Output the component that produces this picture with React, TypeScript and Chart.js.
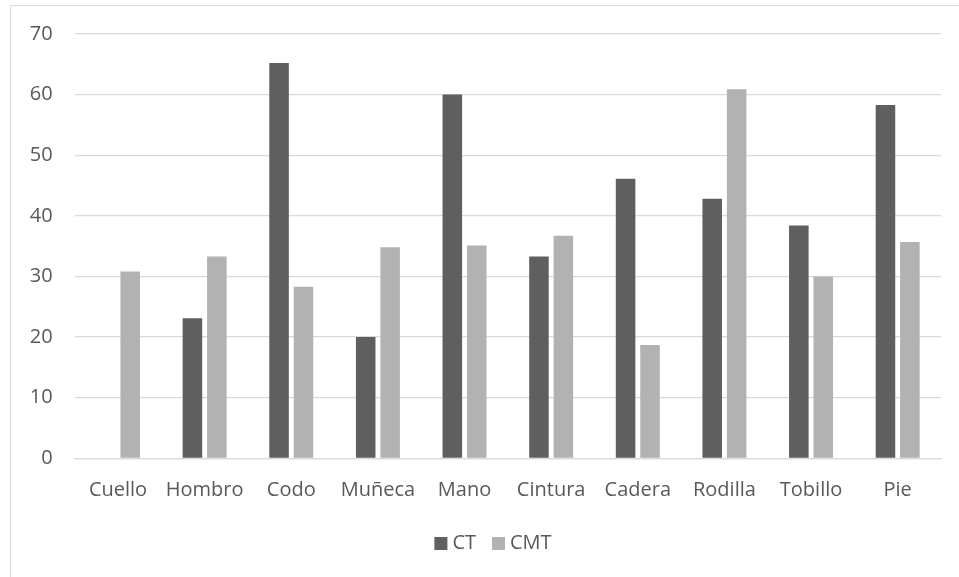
import React, { useEffect, useRef } from "react";
import { Chart, registerables } from "chart.js";

Chart.register(...registerables);

const categories = ["Cuello", "Hombro", "Codo", "Muñeca", "Mano", "Cintura", "Cadera", "Rodilla", "Tobillo", "Pie"];
const ctValues = [0, 23.1, 65.2, 20, 60, 33.3, 46.1, 42.8, 38.4, 58.3];
const cmtValues = [30.8, 33.3, 28.3, 34.8, 35.1, 36.7, 18.7, 60.9, 30.0, 35.7];
const seriesNames = ["CT", "CMT"];
const seriesColors = ["#5f5f5f", "#b2b2b2"];
const yTicks = [0, 10, 20, 30, 40, 50, 60, 70];

const FONT = "'Open Sans', 'Noto Sans', sans-serif";
const FONT_SIZE = 20;

const framePlugin = {
  id: "frame",
  beforeDraw(chart: any) {
    const ctx = chart.ctx;
    ctx.save();
    ctx.fillStyle = "#ffffff";
    ctx.fillRect(0, 0, chart.width, chart.height);
    ctx.strokeStyle = "#d9d9d9";
    ctx.lineWidth = 1;
    ctx.beginPath();
    ctx.moveTo(10.5, chart.height + 2);
    ctx.lineTo(10.5, 5.5);
    ctx.lineTo(chart.width + 2, 5.5);
    ctx.stroke();
    ctx.restore();
  },
};

const legendPlugin = {
  id: "customLegend",
  afterDraw(chart: any) {
    const ctx = chart.ctx;
    ctx.save();
    ctx.font = `${FONT_SIZE}px ${FONT}`;
    ctx.textBaseline = "middle";
    const box = 13;
    const gapBoxText = 5;
    const gapItems = 16;
    const items = chart.data.datasets.map((d: any) => ({
      label: d.label,
      color: d.backgroundColor,
      w: box + gapBoxText + ctx.measureText(d.label).width,
    }));
    const total = items.reduce((a: number, it: any) => a + it.w, 0) + gapItems * (items.length - 1);
    const cy = 543.5;
    let x = 493 - total / 2;
    items.forEach((it: any) => {
      ctx.fillStyle = it.color;
      ctx.fillRect(x, cy - box / 2, box, box);
      ctx.fillStyle = "#595959";
      ctx.fillText(it.label, x + box + gapBoxText, cy);
      x += it.w + gapItems;
    });
    ctx.restore();
  },
};

export default function App() {
  const ref = useRef<HTMLCanvasElement | null>(null);
  useEffect(() => {
    if (!ref.current) return;
    const chart = new Chart(ref.current, {
      type: "bar",
      data: {
        labels: categories,
        datasets: [
          {
            label: seriesNames[0],
            data: ctValues,
            backgroundColor: seriesColors[0],
            categoryPercentage: 0.564,
            barPercentage: 0.8,
          },
          {
            label: seriesNames[1],
            data: cmtValues,
            backgroundColor: seriesColors[1],
            categoryPercentage: 0.564,
            barPercentage: 0.8,
          },
        ],
      },
      options: {
        responsive: false,
        animation: false,
        devicePixelRatio: 1,
        layout: { padding: { left: 0, top: 34, right: 18, bottom: 58.7 } },
        scales: {
          x: {
            grid: { display: false, drawTicks: false },
            border: { display: true, color: "#d9d9d9", width: 1.3 },
            ticks: { color: "#595959", font: { family: FONT, size: FONT_SIZE }, padding: 20, maxRotation: 0, autoSkip: false },
            afterFit: (s: any) => { s.height = 60; },
          },
          y: {
            min: 0,
            max: 70,
            afterBuildTicks: (s: any) => { s.ticks = yTicks.map((v) => ({ value: v })); },
            grid: { color: "#d9d9d9", lineWidth: 1.3, drawTicks: false },
            border: { display: false },
            ticks: { color: "#595959", font: { family: FONT, size: FONT_SIZE }, padding: 22 },
            afterFit: (s: any) => { s.width = 74.7; },
          },
        },
        plugins: {
          legend: { display: false },
          tooltip: { enabled: false },
        },
      },
      plugins: [framePlugin, legendPlugin],
    });
    return () => chart.destroy();
  }, []);
  return (
    <div style={{ position: "fixed", left: 0, top: 0, width: 959, height: 577, background: "#fff" }}>
      <canvas ref={ref} width={959} height={577} style={{ display: "block" }} />
    </div>
  );
}
